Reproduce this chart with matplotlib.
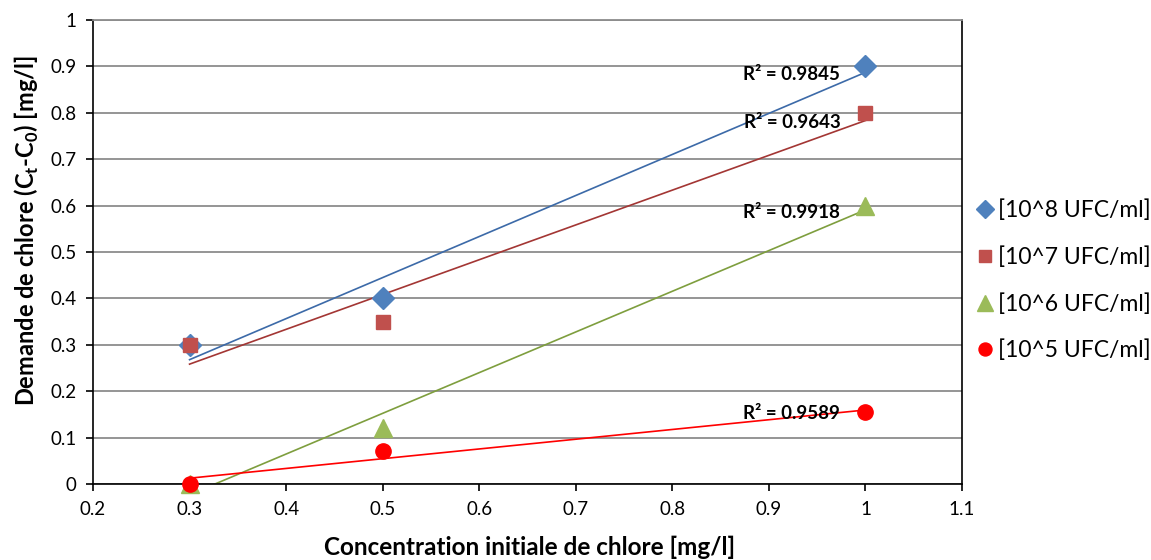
import matplotlib.pyplot as plt
import numpy as np

plt.rcParams['font.family'] = ['Lato', 'DejaVu Sans']

conc = [0.3, 0.5, 1.0]
labels = ["[10^8 UFC/ml]", "[10^7 UFC/ml]", "[10^6 UFC/ml]", "[10^5 UFC/ml]"]
demand_e8 = [0.30, 0.40, 0.90]
demand_e7 = [0.30, 0.35, 0.80]
demand_e6 = [0.00, 0.12, 0.60]
demand_e5 = [0.00, 0.0721, 0.1545]

series = [demand_e8, demand_e7, demand_e6, demand_e5]
markers = ['D', 's', '^', 'o']
sizes = [11, 10, 13, 11]
colors = ['#4F81BD', '#C0504D', '#9BBB59', '#FF0000']
line_colors = ['#3C6AA8', '#A33634', '#7E9E3E', '#FF0000']
r2_pos = [(0.974, 0.883), (0.974, 0.780), (0.974, 0.585), (0.974, 0.151)]

fig = plt.figure(figsize=(11.51, 5.6), dpi=100)
ax = fig.add_axes([0.0808, 0.1357, 0.755, 0.8286])

x = np.array(conc)
for y, lab, m, s, c, lc, pos in zip(series, labels, markers, sizes, colors, line_colors, r2_pos):
    y = np.array(y)
    slope, icpt = np.polyfit(x, y, 1)
    fit = slope * x + icpt
    r2 = 1 - np.sum((y - fit) ** 2) / np.sum((y - y.mean()) ** 2)
    ax.plot([x[0], x[-1]], [slope * x[0] + icpt, slope * x[-1] + icpt], '-', color=lc, lw=1.2, zorder=2)
    ax.plot(x, y, linestyle='none', marker=m, markersize=s, color=c, label=lab, zorder=3, clip_on=False)
    ax.text(pos[0], pos[1], "R² = %.4f" % r2, ha='right', va='center',
            fontsize=13.5, fontweight='bold', zorder=4)

ax.set_xlim(0.2, 1.1)
ax.set_ylim(0, 1)
ax.set_xticks(np.arange(0.2, 1.11, 0.1))
ax.set_xticklabels(["0.2", "0.3", "0.4", "0.5", "0.6", "0.7", "0.8", "0.9", "1", "1.1"])
ax.set_yticks(np.arange(0, 1.01, 0.1))
ax.set_yticklabels(["0", "0.1", "0.2", "0.3", "0.4", "0.5", "0.6", "0.7", "0.8", "0.9", "1"])
ax.tick_params(labelsize=13.5, direction='out', length=5, width=1.2, color='black', pad=7)
ax.yaxis.grid(True, color='#8C8C8C', lw=1.3)
ax.set_axisbelow(True)
for side in ['left', 'bottom', 'right']:
    ax.spines[side].set_color('black')
    ax.spines[side].set_linewidth(1.2)
ax.spines['top'].set_color('#8C8C8C')
ax.spines['top'].set_linewidth(1.3)

ax.set_xlabel("Concentration initiale de chlore [mg/l]", fontsize=17.5, fontweight='bold')
ax.xaxis.set_label_coords(0.502, -0.112)
ax.set_ylabel("Demande de chlore (C$_\\mathregular{t}$-C$_\\mathregular{0}$) [mg/l]", fontsize=17,
              fontweight='bold')
ax.yaxis.set_label_coords(-0.06, 0.547)

leg = fig.legend(loc='upper left', bbox_to_anchor=(0.826, 0.681), frameon=False, fontsize=16.5,
                 handletextpad=0.0, labelspacing=1.1, handlelength=1.15, markerscale=0.85)

fig.savefig("out.png", dpi=100)
